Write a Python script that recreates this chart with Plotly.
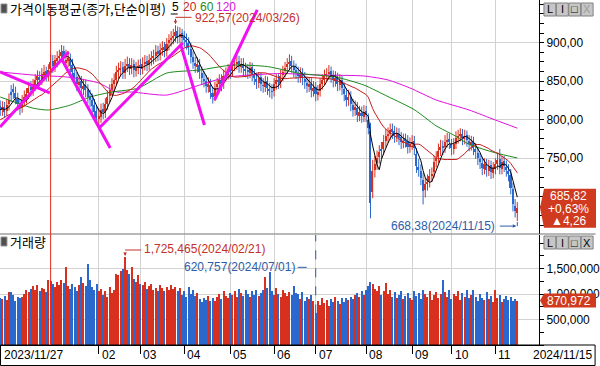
import pandas as pd
import plotly.graph_objects as go

# ---------------- data ----------------
holidays = ["2023-12-25", "2023-12-29", "2024-01-01", "2024-02-09", "2024-02-12",
            "2024-03-01", "2024-04-10", "2024-05-01", "2024-05-06", "2024-05-15",
            "2024-06-06", "2024-08-15", "2024-09-16", "2024-09-17", "2024-09-18",
            "2024-10-01", "2024-10-03", "2024-10-09"]
trade_days = pd.bdate_range("2023-11-27", "2024-11-15")
trade_days = trade_days[~trade_days.isin(pd.to_datetime(holidays))]
dates = [d.strftime("%Y/%m/%d") for d in trade_days]

opens = [818, 812, 817, 811, 820, 836, 840, 835, 827, 819,
         816, 826, 829, 835, 842, 838, 845, 852, 856, 852,
         858, 863, 857, 866, 876, 869, 876, 881, 883, 889,
         874, 876, 879, 871, 861, 855, 845, 850, 840, 845,
         839, 831, 826, 819, 811, 801, 804, 814, 809, 821,
         831, 839, 847, 852, 863, 865, 868, 861, 871, 873,
         866, 872, 863, 868, 871, 866, 873, 876, 871, 878,
         881, 883, 889, 884, 891, 894, 889, 899, 904, 907,
         909, 915, 907, 912, 907, 904, 900, 892, 881, 874,
         869, 871, 861, 853, 850, 843, 845, 835, 831, 842,
         847, 852, 847, 858, 860, 865, 863, 871, 873, 876,
         869, 873, 866, 865, 861, 868, 858, 853, 848, 855,
         845, 843, 850, 840, 837, 837, 847, 852, 848, 858,
         863, 868, 873, 876, 869, 865, 861, 856, 860, 853,
         848, 843, 847, 837, 842, 832, 837, 847, 852, 858,
         860, 863, 856, 850, 855, 845, 852, 840, 832, 825,
         829, 819, 812, 815, 805, 809, 804, 811, 800, 785,
         706, 735, 744, 752, 761, 762, 772, 780, 782, 788,
         785, 778, 782, 777, 770, 775, 772, 764, 769, 772,
         755, 739, 734, 722, 709, 717, 720, 728, 732, 746,
         751, 761, 766, 764, 772, 775, 768, 762, 769, 777,
         780, 782, 775, 780, 773, 767, 772, 762, 757, 749,
         744, 736, 743, 734, 741, 731, 736, 743, 749, 736,
         746, 739, 734, 728, 710, 688, 679]
highs = [825, 824, 823, 827, 834, 845, 847, 843, 835, 827,
         832, 838, 841, 849, 850, 853, 859, 864, 863, 867,
         871, 869, 872, 885, 884, 884, 889, 891, 897, 896,
         891, 889, 886, 879, 869, 862, 858, 857, 853, 852,
         846, 839, 834, 827, 819, 815, 821, 822, 828, 838,
         846, 854, 860, 870, 874, 876, 875, 879, 882, 880,
         880, 878, 875, 878, 879, 881, 884, 883, 885, 889,
         891, 897, 896, 899, 902, 901, 906, 911, 915, 918,
         922.57, 921, 920, 918, 915, 912, 907, 900, 889, 882,
         881, 879, 869, 863, 858, 855, 853, 843, 849, 854,
         859, 859, 865, 868, 872, 872, 878, 881, 884, 883,
         880, 880, 874, 872, 875, 874, 866, 861, 862, 861,
         854, 857, 856, 848, 846, 854, 859, 859, 865, 870,
         875, 880, 885, 883, 877, 873, 869, 868, 867, 862,
         856, 855, 854, 850, 849, 845, 854, 859, 865, 867,
         871, 869, 864, 863, 861, 859, 858, 848, 841, 839,
         837, 827, 825, 823, 818, 817, 819, 818, 808, 796,
         748, 753, 760, 767, 771, 780, 788, 790, 795, 795,
         792, 790, 789, 784, 782, 782, 780, 777, 780, 779,
         763, 749, 742, 731, 725, 729, 736, 738, 753, 759,
         769, 774, 773, 780, 783, 782, 775, 776, 785, 787,
         789, 788, 787, 786, 780, 779, 778, 770, 765, 757,
         752, 750, 749, 748, 747, 745, 750, 757, 762, 753,
         753, 747, 742, 736, 718, 697, 693]
lows = [805, 805, 802, 805, 812, 823, 827, 820, 812, 806,
        809, 817, 821, 827, 830, 831, 838, 844, 843, 845,
        850, 850, 850, 859, 861, 862, 868, 872, 875, 874,
        867, 868, 861, 853, 845, 837, 837, 833, 832, 829,
        821, 816, 809, 801, 793, 790, 796, 801, 802, 813,
        823, 831, 839, 845, 853, 856, 853, 853, 862, 858,
        859, 855, 856, 859, 858, 859, 864, 863, 864, 870,
        872, 875, 876, 877, 883, 881, 882, 890, 895, 898,
        901, 899, 899, 897, 894, 891, 884, 873, 866, 861,
        861, 853, 845, 842, 835, 835, 827, 821, 824, 834,
        839, 837, 840, 850, 852, 853, 856, 863, 865, 861,
        861, 858, 855, 853, 854, 850, 845, 840, 841, 837,
        835, 836, 832, 829, 827, 830, 839, 840, 841, 850,
        855, 860, 865, 861, 855, 853, 848, 848, 845, 840,
        835, 836, 829, 830, 824, 825, 830, 839, 845, 850,
        852, 848, 842, 843, 837, 838, 832, 824, 817, 818,
        811, 804, 805, 797, 798, 796, 797, 797, 781, 672,
        698, 725, 735, 743, 749, 754, 764, 770, 774, 775,
        770, 771, 767, 762, 763, 764, 756, 757, 761, 754,
        731, 726, 715, 690, 699, 708, 712, 719, 725, 738,
        744, 753, 754, 757, 764, 762, 754, 755, 762, 769,
        772, 767, 768, 765, 759, 760, 754, 749, 741, 736,
        728, 729, 726, 727, 723, 724, 729, 735, 729, 729,
        732, 726, 720, 703, 681, 673, 668.38]
closes = [813, 816, 810, 819, 825, 832, 836, 828, 820, 815,
          825, 830, 834, 841, 839, 846, 851, 857, 851, 859,
          862, 858, 864, 875, 870, 877, 880, 882, 888, 882,
          877, 880, 870, 862, 854, 846, 849, 841, 844, 838,
          830, 825, 818, 810, 802, 805, 813, 810, 820, 830,
          838, 846, 851, 862, 864, 867, 862, 870, 872, 867,
          871, 864, 867, 870, 867, 872, 875, 872, 877, 880,
          882, 888, 885, 890, 893, 890, 898, 903, 906, 908,
          914, 908, 911, 906, 903, 901, 893, 882, 875, 870,
          872, 862, 854, 851, 844, 846, 836, 830, 841, 846,
          851, 846, 857, 859, 864, 862, 870, 872, 875, 870,
          872, 867, 864, 862, 867, 859, 854, 849, 854, 846,
          844, 849, 841, 838, 836, 846, 851, 849, 857, 862,
          867, 872, 875, 870, 864, 862, 857, 859, 854, 849,
          844, 846, 838, 841, 833, 836, 846, 851, 857, 859,
          862, 857, 851, 854, 846, 851, 841, 833, 826, 830,
          820, 813, 816, 806, 810, 805, 810, 806, 789, 692,
          733, 742, 750, 758, 760, 771, 779, 781, 787, 784,
          779, 781, 776, 771, 773, 773, 765, 768, 771, 763,
          740, 735, 724, 708, 716, 719, 727, 729, 745, 750,
          760, 765, 763, 771, 774, 771, 763, 768, 776, 779,
          781, 776, 779, 774, 768, 771, 763, 758, 750, 745,
          737, 742, 735, 740, 732, 737, 742, 748, 737, 745,
          740, 735, 729, 711, 690, 681.56, 685.82]
# volume in thousands of shares
volume_k = [930, 900, 960, 880, 1040, 1030, 980, 870, 950, 920,
            940, 1000, 1080, 1030, 1100, 1150, 1080, 1180, 1050, 1120,
            1090, 1040, 1270, 1250, 1200, 1140, 1230, 1180, 1270, 1210,
            1520, 1160, 1090, 1200, 1130, 1060, 1180, 1330, 1210, 1150,
            1590, 1270, 1140, 1080, 1200, 1050, 1100, 980, 1060, 940,
            1140, 1010, 1080, 1400, 1370, 1450, 1500, 1725.465, 1480, 1390,
            1520, 1300, 1230, 1370, 1200, 1180, 1240, 1090, 1150, 1200,
            1080, 1120, 1050, 1170, 1110, 1060, 1130, 1080, 1180, 1100,
            1140, 1050, 1120, 980, 1060, 940, 1140, 1000, 1080, 960,
            1020, 900, 850, 930, 880, 960, 870, 920, 860, 940,
            1000, 900, 1050, 960, 920, 1010, 980, 1060, 940, 1100,
            1020, 960, 1080, 1000, 940, 1050, 990, 1070, 960, 1020,
            1080, 1330, 1120, 1440, 1060, 980, 1120, 1000, 950, 1080,
            1010, 960, 1040, 980, 1160, 1020, 1000, 900, 1040, 870,
            950, 900, 980, 860, 620.757, 860, 790, 930, 820, 880,
            760, 900, 840, 950, 870, 800, 920, 850, 930, 880,
            950, 900, 980, 1020, 940, 1050, 990, 1080, 1150, 1230,
            1200, 1100, 1050, 1160, 980, 1060, 1210, 1000, 1080, 950,
            1040, 920, 990, 1060, 900, 960, 1010, 930, 880, 1050,
            970, 1020, 900, 1070, 1000, 940, 1060, 880, 990, 1030,
            920, 1000, 1270, 1040, 950, 1080, 900, 1000, 960, 1060,
            880, 1010, 940, 1070, 920, 990, 1080, 940, 860, 1000,
            920, 880, 1040, 900, 960, 850, 1070, 920, 980, 840,
            900, 960, 880, 940, 860, 910, 870.972]

# moving-average values read from the chart where history is not shown
ma20_head = [800, 801, 803, 805, 806, 808, 810, 812, 813, 815,
             816, 818, 820, 821, 823, 825, 827, 829, 831]
ma60_idx = [0, 15, 22, 32, 41, 51, 63, 76, 91, 106, 122, 137, 153, 166, 177, 189, 199, 207, 214, 226, 236]
ma60_val = [829.5, 815, 812.6, 819, 829.5, 836, 841, 860.6, 864.5, 871, 869, 860, 855.5, 845, 830,
            813, 792, 780, 768, 757, 750.3]
ma120_idx = [0, 15, 32, 45, 53, 60, 76, 91, 103, 114, 128, 146, 166, 177, 187, 199, 214, 226, 236]
ma120_val = [862, 858, 855, 847.7, 836, 836, 832, 845, 855, 858, 860, 858, 856.8, 851.6, 841.2,
             825.6, 812.6, 799.6, 789]

# hand-drawn trend lines (index, price)
tl_x0 = [-0.1, -0.1, 28, 45.2, 82.4, 97.8]
tl_y0 = [862, 790.6, 878.8, 789.2, 897, 825.6]
tl_x1 = [22.6, 31.2, 50.2, 83.3, 93.2, 117.3]
tl_y1 = [834.7, 887.9, 763.2, 899.6, 793.1, 942.5]

month_labels = ["02", "03", "04", "05", "06", "07", "08", "09", "10", "11"]
price_ticks = [700, 750, 800, 850, 900]
price_ticktext = ["", "750,00", "800,00", "850,00", "900,00"]   # 700,00 sits under the price box
vol_ticks = [500, 1000, 1500]

# ---------------- derived ----------------
n = len(closes)
xi = list(range(n))
cs = pd.Series(closes)
ma5 = cs.rolling(5, min_periods=1).mean().tolist()
ma20 = cs.rolling(20).mean().tolist()
ma20[:len(ma20_head)] = ma20_head

month_idx = []
for m in month_labels:
    for i, d in enumerate(dates):
        if d.startswith("2024/" + m):
            month_idx.append(i)
            break
year_idx = next(i for i, d in enumerate(dates) if d.startswith("2024"))

RED = "#D8301E"
BLUE = "#2A68CE"
TXT_RED = "#C4302A"
TXT_BLUE = "#2B5DA8"
MA20C = "#C81E1E"
MA60C = "#1C8A1C"
MA120C = "#E010E0"
TLC = "#F010F0"
GRID = "#D2D2D2"
FONT = "Liberation Sans, Arial, sans-serif"
KFONT = "Noto Sans CJK KR, sans-serif"

up = [c >= o for o, c in zip(opens, closes)]
vol_colors = [RED if u else BLUE for u in up]

PW, PH = 543.0, 345.0
def px(xp):
    return xp / PW
def py(yp):
    return (PH - yp) / PH

fig = go.Figure()
# candles: wicks + bodies
for flag, col in [(True, RED), (False, BLUE)]:
    wx, wy, bx, bb, bh = [], [], [], [], []
    for i in xi:
        if up[i] != flag:
            continue
        wx += [i, i, None]
        wy += [lows[i], highs[i], None]
        lo_b = min(opens[i], closes[i])
        bx.append(i)
        bb.append(lo_b)
        bh.append(max(abs(closes[i] - opens[i]), 0.8))
    fig.add_trace(go.Scatter(x=wx, y=wy, mode="lines", line=dict(color=col, width=1),
                             hoverinfo="skip", xaxis="x", yaxis="y"))
    fig.add_trace(go.Bar(x=bx, y=bh, base=bb, width=0.7,
                         marker=dict(color=col, line=dict(width=0)),
                         hoverinfo="skip", xaxis="x", yaxis="y"))
fig.add_trace(go.Scatter(x=ma120_idx, y=ma120_val, mode="lines",
                         line=dict(color=MA120C, width=1, shape="spline", smoothing=0.6),
                         hoverinfo="skip", xaxis="x", yaxis="y"))
fig.add_trace(go.Scatter(x=ma60_idx, y=ma60_val, mode="lines",
                         line=dict(color=MA60C, width=1, shape="spline", smoothing=0.6),
                         hoverinfo="skip", xaxis="x", yaxis="y"))
fig.add_trace(go.Scatter(x=xi, y=ma20, mode="lines", line=dict(color=MA20C, width=1),
                         hoverinfo="skip", xaxis="x", yaxis="y"))
fig.add_trace(go.Scatter(x=xi, y=ma5, mode="lines", line=dict(color="black", width=1),
                         hoverinfo="skip", xaxis="x", yaxis="y"))
tlx, tly = [], []
for a, b, c, d in zip(tl_x0, tl_y0, tl_x1, tl_y1):
    tlx += [a, c, None]
    tly += [b, d, None]
fig.add_trace(go.Scatter(x=tlx, y=tly, mode="lines", line=dict(color=TLC, width=3),
                         hoverinfo="skip", xaxis="x", yaxis="y"))
fig.add_trace(go.Bar(x=xi, y=volume_k, marker=dict(color=vol_colors, line=dict(width=0)),
                     width=0.55, hoverinfo="skip", xaxis="x2", yaxis="y2"))

shapes = []
annotations = []

# separator between panels and date strip
shapes.append(dict(type="line", xref="paper", yref="paper", x0=0, x1=600 / PW,
                   y0=py(234), y1=py(234), line=dict(color="#707070", width=1)))
shapes.append(dict(type="rect", xref="paper", yref="paper", x0=px(0.5), x1=px(599.5),
                   y0=py(365.5), y1=py(345), line=dict(color="black", width=1)))
# year boundary
shapes.append(dict(type="line", xref="x", yref="paper", x0=year_idx, x1=year_idx,
                   y0=0, y1=py(4), line=dict(color="#E8281E", width=1)))

# legend row
shapes.append(dict(type="rect", xref="paper", yref="paper", x0=px(1), x1=px(7),
                   y0=py(13), y1=py(4), fillcolor="#505050", line=dict(color="#909090", width=1)))
annotations.append(dict(text="가격이동평균(종가,단순이평)", xref="paper", yref="paper",
                        x=px(8), y=py(8.5), xanchor="left", yanchor="middle", showarrow=False,
                        font=dict(family=KFONT, size=13, color="black")))
for t, xl, col in [("5", 171, "black"), ("20", 182, MA20C), ("60", 199, MA60C), ("120", 216, MA120C)]:
    annotations.append(dict(text=t, xref="paper", yref="paper", x=px(xl), y=py(7.5), xanchor="left",
                            yanchor="middle", showarrow=False,
                            font=dict(family=FONT, size=12, color=col)))
shapes.append(dict(type="line", xref="paper", yref="paper", x0=px(172), x1=px(179),
                   y0=py(14), y1=py(14), line=dict(color="black", width=1)))
shapes.append(dict(type="rect", xref="paper", yref="paper", x0=px(1), x1=px(7),
                   y0=py(246), y1=py(237), fillcolor="#505050", line=dict(color="#909090", width=1)))
annotations.append(dict(text="거래량", xref="paper", yref="paper", x=px(8), y=py(241.5),
                        xanchor="left", yanchor="middle", showarrow=False,
                        font=dict(family=KFONT, size=13, color="black")))

# high price label
ih = max(range(n), key=lambda i: highs[i])
hv = highs[ih]
annotations.append(dict(text=f"{hv:.2f}".replace(".", ",") + "(" + dates[ih] + ")",
                        xref="x", yref="y", x=ih, y=hv, xanchor="left", yanchor="middle",
                        xshift=17, yshift=7, showarrow=False,
                        font=dict(family=FONT, size=12, color=TXT_RED)))
shapes.append(dict(type="line", xref="x", yref="y", xsizemode="pixel", ysizemode="pixel",
                   xanchor=ih, yanchor=hv, x0=0, x1=16, y0=8, y1=8,
                   line=dict(color=TXT_RED, width=1)))
annotations.append(dict(text="", xref="x", yref="y", x=ih, y=hv, ax=0, ay=-8, showarrow=True,
                        arrowhead=2, arrowsize=0.7, arrowwidth=1, arrowcolor=TXT_RED, standoff=1))

# low price label
il = min(range(n), key=lambda i: lows[i])
lv = lows[il]
annotations.append(dict(text=f"{lv:.2f}".replace(".", ",") + "(" + dates[il] + ")",
                        xref="x", yref="y", x=il, y=lv, xanchor="right", yanchor="middle",
                        xshift=-20, yshift=-5, showarrow=False,
                        font=dict(family=FONT, size=12, color=TXT_BLUE)))
annotations.append(dict(text="", xref="x", yref="y", x=il, y=lv, ax=-18, ay=0, xshift=-1, yshift=-5,
                        showarrow=True, arrowhead=2, arrowsize=0.7, arrowwidth=1,
                        arrowcolor=TXT_BLUE, standoff=0))
shapes.append(dict(type="line", xref="x", yref="y", xsizemode="pixel", ysizemode="pixel",
                   xanchor=il, yanchor=lv, x0=0, x1=0, y0=-5, y1=-1,
                   line=dict(color=TXT_BLUE, width=1)))

# max volume label
ivh = max(range(n), key=lambda i: volume_k[i])
vh = volume_k[ivh]
annotations.append(dict(text=f"{round(vh * 1000):,}" + "(" + dates[ivh] + ")",
                        xref="x2", yref="y2", x=ivh, y=vh, xanchor="left", yanchor="middle",
                        xshift=17, yshift=8, showarrow=False,
                        font=dict(family=FONT, size=12, color=TXT_RED)))
shapes.append(dict(type="line", xref="x2", yref="y2", xsizemode="pixel", ysizemode="pixel",
                   xanchor=ivh, yanchor=vh, x0=0, x1=16, y0=7, y1=7,
                   line=dict(color=TXT_RED, width=1)))
annotations.append(dict(text="", xref="x2", yref="y2", x=ivh, y=vh, ax=0, ay=-6, showarrow=True,
                        arrowhead=2, arrowsize=0.7, arrowwidth=1, arrowcolor=TXT_RED, standoff=1))

# min volume label
ivl = min(range(n), key=lambda i: volume_k[i])
vl = volume_k[ivl]
annotations.append(dict(text=f"{round(vl * 1000):,}" + "(" + dates[ivl] + ")",
                        xref="x2", yref="y2", x=ivl, y=vl, xanchor="right", yanchor="middle",
                        xshift=-19, yshift=46, showarrow=False,
                        font=dict(family=FONT, size=12, color=TXT_BLUE)))
shapes.append(dict(type="line", xref="x2", yref="y2", xsizemode="pixel", ysizemode="pixel",
                   xanchor=ivl, yanchor=vl, x0=-18, x1=0, y0=46, y1=46,
                   line=dict(color=TXT_BLUE, width=1, dash="dash")))
shapes.append(dict(type="line", xref="x2", yref="y2", x0=ivl, x1=ivl, y0=vl, y1=2157,
                   line=dict(color=TXT_BLUE, width=1, dash="dash")))

# last price box
chg = closes[-1] - closes[-2]
pct = chg / closes[-2] * 100
shapes.append(dict(type="path", xref="paper", yref="y", xsizemode="pixel", ysizemode="pixel",
                   xanchor=1, yanchor=closes[-1],
                   path="M 5 19 L 57 19 L 57 -20 L 5 -20 L 1 0 Z",
                   fillcolor="#D03A1E", line=dict(width=0), layer="above"))
box_lines = [(f"{closes[-1]:.2f}".replace(".", ","), 11.5),
             (("+" if pct >= 0 else "") + f"{pct:.2f}".replace(".", ",") + "%", -1),
             (("▲" if chg >= 0 else "▼") + f"{abs(chg):.2f}".replace(".", ","), -13.5)]
for t, ys in box_lines:
    annotations.append(dict(text=t, xref="paper", yref="y", x=px(573), y=closes[-1], yshift=ys,
                            xanchor="center", yanchor="middle", showarrow=False,
                            font=dict(family=FONT, size=12, color="white")))
# last volume box
shapes.append(dict(type="path", xref="paper", yref="y2", xsizemode="pixel", ysizemode="pixel",
                   xanchor=1, yanchor=volume_k[-1],
                   path="M 5 7 L 57 7 L 57 -7 L 5 -7 L 1 0 Z",
                   fillcolor="#D03A1E", line=dict(width=0), layer="above"))
annotations.append(dict(text=f"{round(volume_k[-1] * 1000):,}", xref="paper", yref="y2",
                        x=px(573), y=volume_k[-1], xanchor="center", yanchor="middle",
                        showarrow=False, font=dict(family=FONT, size=12, color="white")))

# window buttons
def add_buttons(top, xcol):
    for k, lab in enumerate(["L", "I", "□", "X"]):
        x0 = 548 + k * 12.5
        shapes.append(dict(type="rect", xref="paper", yref="paper", x0=px(x0), x1=px(x0 + 12),
                           y0=py(top + 13), y1=py(top), fillcolor="#C6C6C6",
                           line=dict(color="#808080", width=1)))
        annotations.append(dict(text=lab, xref="paper", yref="paper", x=px(x0 + 6), y=py(top + 6.5),
                                xanchor="center", yanchor="middle", showarrow=False,
                                font=dict(family=FONT, size=11,
                                          color=(xcol if lab == "X" else "black"))))
add_buttons(3, "#9A9A9A")
add_buttons(236, "black")

# date labels
annotations.append(dict(text=dates[0], xref="paper", yref="paper", x=px(2), y=py(355),
                        xanchor="left", yanchor="middle", showarrow=False,
                        font=dict(family=FONT, size=12, color="black")))
for m, i in zip(month_labels, month_idx):
    annotations.append(dict(text=m, xref="x2", yref="paper", x=i, y=py(355), xshift=1,
                            xanchor="left", yanchor="middle", showarrow=False,
                            font=dict(family=FONT, size=12, color="black")))
annotations.append(dict(text=dates[-1], xref="paper", yref="paper", x=px(598), y=py(355),
                        xanchor="right", yanchor="middle", showarrow=False,
                        font=dict(family=FONT, size=12, color="black")))

xr = [-0.1, 245.9]
fig.update_layout(
    width=600, height=366, margin=dict(l=0, r=57, t=0, b=21),
    paper_bgcolor="white", plot_bgcolor="white", showlegend=False,
    bargap=0, barmode="overlay", hovermode=False,
    xaxis=dict(domain=[0, 1], range=xr, anchor="y", tickmode="array", tickvals=month_idx,
               showticklabels=False, ticks="", showgrid=True, gridcolor=GRID, gridwidth=1,
               zeroline=False, showline=False, fixedrange=True),
    xaxis2=dict(domain=[0, 1], range=xr, anchor="y2", tickmode="array", tickvals=month_idx,
                showticklabels=False, ticks="outside", ticklen=8, tickcolor="black",
                showgrid=True, gridcolor=GRID, gridwidth=1, zeroline=False,
                showline=True, linecolor="black", linewidth=1, fixedrange=True),
    yaxis=dict(domain=[py(234), 1], range=[651.6, 955.45], anchor="x", side="right",
               tickmode="array", tickvals=price_ticks, ticktext=price_ticktext,
               ticks="outside", ticklen=4, tickcolor="black",
               minor=dict(tickmode="linear", tick0=0, dtick=12.5, ticks="outside", ticklen=4,
                          tickcolor="black", showgrid=False),
               showgrid=True, gridcolor=GRID, zeroline=False, showline=True,
               linecolor="black", linewidth=1, tickfont=dict(family=FONT, size=12, color="black"),
               fixedrange=True),
    yaxis2=dict(domain=[0, py(235)], range=[0, 2157], anchor="x2", side="right",
                tickmode="array", tickvals=vol_ticks,
                ticktext=[f"{v * 1000:,}" for v in vol_ticks],
                ticks="outside", ticklen=4, tickcolor="black",
                minor=dict(tickmode="linear", tick0=0, dtick=250, ticks="outside", ticklen=4,
                           tickcolor="black", showgrid=False),
                showgrid=True, gridcolor=GRID, zeroline=False, showline=True,
                linecolor="black", linewidth=1, tickfont=dict(family=FONT, size=12, color="black"),
                fixedrange=True),
    shapes=shapes, annotations=annotations,
)
fig.write_html("out.html", config={"displayModeBar": False},
               post_script="document.body.style.margin='0';document.body.style.padding='0';"
                           "document.body.style.overflow='hidden';")
